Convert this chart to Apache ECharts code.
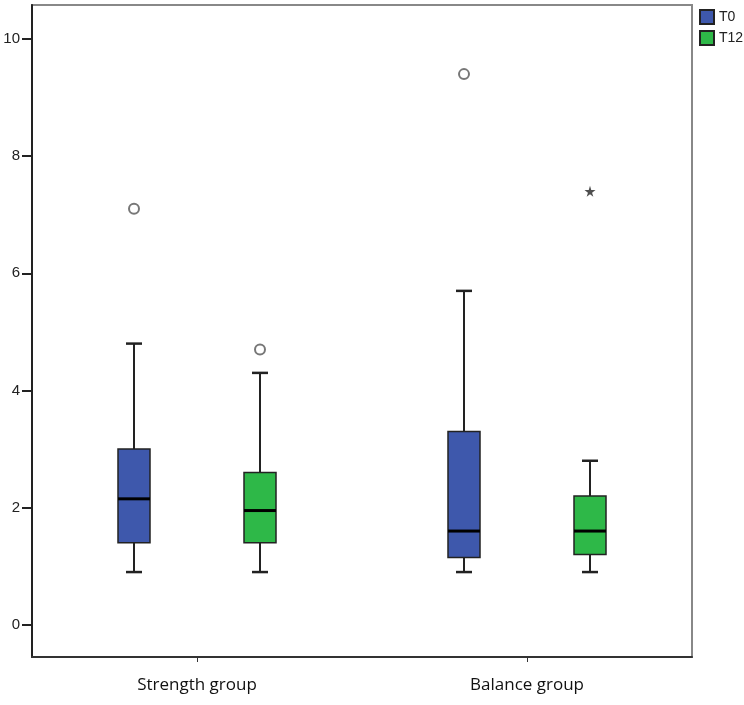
<!DOCTYPE html>
<html>
<head>
<meta charset="utf-8">
<script src="https://cdn.jsdelivr.net/npm/echarts@6/dist/echarts.min.js"></script>
<style>
  html, body { margin: 0; padding: 0; background: #fff; }
  #chart { width: 744px; height: 705px; }
</style>
</head>
<body>
<div id="chart"></div>
<script>
// ---- data ----
const categories = ['Strength group', 'Balance group'];
const seriesNames = ['T0', 'T12'];
// [min, Q1, median, Q3, max]
const t0Box = [[0.9, 1.4, 2.15, 3.0, 4.8], [0.9, 1.15, 1.6, 3.3, 5.7]];
const t12Box = [[0.9, 1.4, 1.95, 2.6, 4.3], [0.9, 1.2, 1.6, 2.2, 2.8]];
// [categoryIndex, value]
const t0Outliers = [[0, 7.1], [1, 9.4]];
const t12Outliers = [[0, 4.7]];
const t12Extremes = [[1, 7.4]];
const yTicks = [0, 2, 4, 6, 8, 10];

// ---- style ----
const colors = ['#3E58AC', '#2EB848'];
const BOX_W = 32;
const CAP_W = 16;
const OFFSET = 63;
const starPath = 'path://M50,0 L61,35 L98,35 L68,57 L79,91 L50,70 L21,91 L32,57 L2,35 L39,35 Z';

function boxRenderer(offset, color) {
    return function (params, api) {
        const c = api.value(0);
        const p = [1, 2, 3, 4, 5].map(i => api.coord([c, api.value(i)]));
        const x = p[0][0] + offset;
        const lineStyle = { stroke: '#222', lineWidth: 2 };
        return {
            type: 'group',
            children: [
                { type: 'line', shape: { x1: x, y1: p[0][1], x2: x, y2: p[1][1] }, style: lineStyle },
                { type: 'line', shape: { x1: x, y1: p[3][1], x2: x, y2: p[4][1] }, style: lineStyle },
                { type: 'line', shape: { x1: x - CAP_W / 2, y1: p[0][1], x2: x + CAP_W / 2, y2: p[0][1] }, style: { stroke: '#222', lineWidth: 2.5 } },
                { type: 'line', shape: { x1: x - CAP_W / 2, y1: p[4][1], x2: x + CAP_W / 2, y2: p[4][1] }, style: { stroke: '#222', lineWidth: 2.5 } },
                {
                    type: 'rect',
                    shape: { x: x - BOX_W / 2, y: p[3][1], width: BOX_W, height: p[1][1] - p[3][1] },
                    style: { fill: color, stroke: '#222', lineWidth: 1.5 }
                },
                { type: 'line', shape: { x1: x - BOX_W / 2, y1: p[2][1], x2: x + BOX_W / 2, y2: p[2][1] }, style: { stroke: '#000', lineWidth: 3 } }
            ]
        };
    };
}

function boxSeries(name, boxes, offset, color) {
    return {
        name: name,
        type: 'custom',
        renderItem: boxRenderer(offset, color),
        itemStyle: { color: color, borderColor: '#222', borderWidth: 1 },
        encode: { x: 0, y: [1, 2, 3, 4, 5] },
        data: boxes.map((b, i) => [i].concat(b)),
        z: 2
    };
}

const chart = echarts.init(document.getElementById('chart'));
chart.setOption({
    backgroundColor: '#fff',
    animation: false,
    legend: {
        data: seriesNames,
        orient: 'vertical',
        left: 694,
        top: 4,
        itemWidth: 14,
        itemHeight: 14,
        itemGap: 5,
        icon: 'rect',
        textStyle: { color: '#222', fontSize: 14, fontFamily: 'Liberation Sans' }
    },
    grid: {
        left: 32, right: 52, top: 5, bottom: 48,
        show: true, borderColor: '#888', borderWidth: 2
    },
    xAxis: {
        type: 'category',
        data: categories,
        axisLine: { onZero: false, lineStyle: { color: '#333', width: 2 } },
        axisTick: { show: true, alignWithLabel: true, length: 5, lineStyle: { color: '#333' } },
        axisLabel: { color: '#111', fontSize: 17, margin: 20, fontFamily: 'Open Sans' }
    },
    yAxis: {
        type: 'value',
        min: -0.55,
        max: 10.58,
        splitLine: { show: false },
        axisLine: { show: true, lineStyle: { color: '#222', width: 2 } },
        axisTick: { show: true, length: 10, customValues: yTicks, lineStyle: { color: '#222', width: 2 } },
        axisLabel: { color: '#222', fontSize: 15, margin: 12, customValues: yTicks, fontFamily: 'Liberation Sans' }
    },
    series: [
        boxSeries('T0', t0Box, -OFFSET, colors[0]),
        boxSeries('T12', t12Box, OFFSET, colors[1]),
        {
            name: 'T0 outliers', type: 'scatter', data: t0Outliers,
            symbol: 'circle', symbolSize: 10, symbolOffset: [-OFFSET, 0],
            itemStyle: { color: '#fff', borderColor: '#555', borderWidth: 2 }, z: 3
        },
        {
            name: 'T12 outliers', type: 'scatter', data: t12Outliers,
            symbol: 'circle', symbolSize: 10, symbolOffset: [OFFSET, 0],
            itemStyle: { color: '#fff', borderColor: '#555', borderWidth: 2 }, z: 3
        },
        {
            name: 'T12 extremes', type: 'scatter', data: t12Extremes,
            symbol: starPath, symbolSize: 11, symbolOffset: [OFFSET, 0],
            itemStyle: { color: '#222' }, z: 3
        }
    ]
});
</script>
</body>
</html>
